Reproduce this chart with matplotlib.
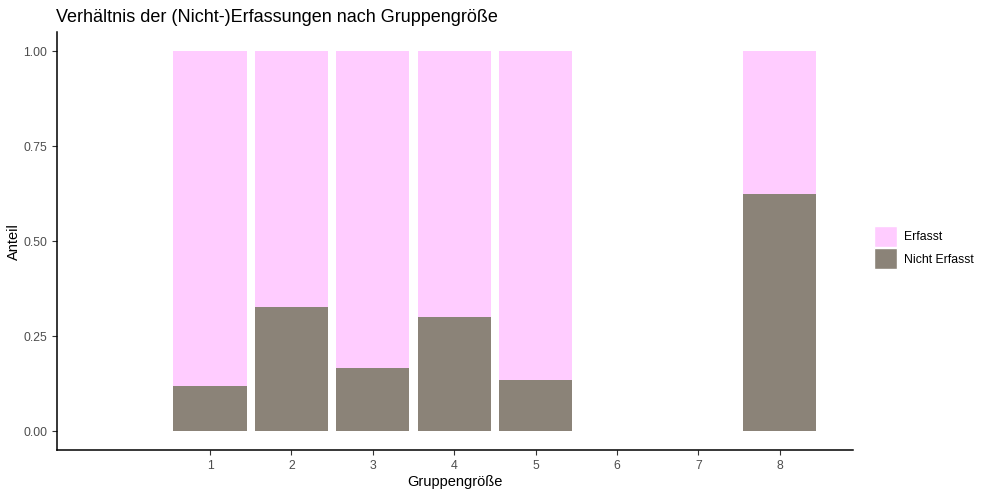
import numpy as np
import matplotlib.pyplot as plt
from matplotlib.patches import Patch

plt.rcParams['font.family'] = ['Liberation Sans', 'DejaVu Sans']

# Gruppengröße und Anteil "Nicht Erfasst" je Gruppe
groups = [1, 2, 3, 4, 5, 8]
nicht_erfasst = [0.118, 0.326, 0.166, 0.300, 0.134, 0.625]
erfasst = [1 - v for v in nicht_erfasst]
x_ticks = [1, 2, 3, 4, 5, 6, 7, 8]
y_ticks = [0.0, 0.25, 0.5, 0.75, 1.0]

col_erfasst = '#FFCCFF'
col_nicht = '#8B8378'

fig = plt.figure(figsize=(9.9, 4.95), dpi=100)
ax = fig.add_axes([0.0576, 0.0909, 0.804, 0.844])

ax.bar(groups, nicht_erfasst, width=0.9, color=col_nicht)
ax.bar(groups, erfasst, width=0.9, bottom=nicht_erfasst, color=col_erfasst)

ax.set_xlim(-0.88, 8.9)
ax.set_ylim(-0.05, 1.05)
ax.set_xticks(x_ticks)
ax.set_yticks(y_ticks)
ax.set_yticklabels(['%.2f' % v for v in y_ticks])

for s in ['top', 'right']:
    ax.spines[s].set_visible(False)
for s in ['left', 'bottom']:
    ax.spines[s].set_linewidth(1.1)
ax.tick_params(axis='both', labelsize=8.8, labelcolor='#4D4D4D', color='#333333',
               length=3.5, width=0.8)

ax.set_xlabel('Gruppengröße', fontsize=10.5, labelpad=2)
ax.set_ylabel('Anteil', fontsize=10.5, labelpad=2)
fig.text(0.057, 0.955, 'Verhältnis der (Nicht-)Erfassungen nach Gruppengröße',
         fontsize=13, ha='left', va='baseline')

handles = [Patch(facecolor=col_erfasst, edgecolor='white', label='Erfasst'),
           Patch(facecolor=col_nicht, edgecolor='white', label='Nicht Erfasst')]
fig.legend(handles=handles, loc='center left', bbox_to_anchor=(0.883, 0.5),
           frameon=False, fontsize=8.8, handlelength=1.85, handleheight=2.3,
           handletextpad=0.6, labelspacing=0.1, borderaxespad=0, borderpad=0)

fig.savefig('out.png', dpi=100)
